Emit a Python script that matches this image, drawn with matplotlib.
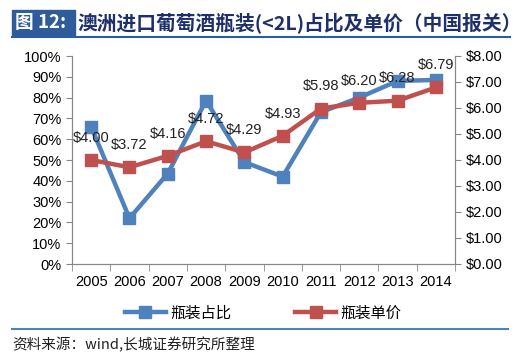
import numpy as np
import matplotlib.pyplot as plt
from matplotlib.ticker import FuncFormatter
from matplotlib.patches import Rectangle
from matplotlib.lines import Line2D

plt.rcParams['font.family'] = ['Liberation Sans', 'Noto Sans CJK SC', 'DejaVu Sans']

years = ['2005', '2006', '2007', '2008', '2009', '2010', '2011', '2012', '2013', '2014']
bottle_share = [66, 22, 43.5, 78.5, 49, 42, 73, 80, 88, 88.5]
bottle_price = [4.00, 3.72, 4.16, 4.72, 4.29, 4.93, 5.98, 6.20, 6.28, 6.79]

blue = '#4F81BD'
red = '#C0504D'

fig = plt.figure(figsize=(5.26, 3.6), dpi=100)
ax = fig.add_axes([72/526, 1-264/360, (455-72)/526, (264-56)/360])
ax2 = ax.twinx()

x = np.arange(len(years))
ax.plot(x, bottle_share, color=blue, lw=3.2, marker='s', ms=9, zorder=3)
ax2.plot(x, bottle_price, color=red, lw=3.2, marker='s', ms=9, zorder=3)
for xi, v in zip(x, bottle_price):
    ax2.annotate(f'${v:.2f}', (xi, v), xytext=(0, 11), textcoords='offset points',
                 ha='center', va='bottom', fontsize=10.5, color='#222222')

ax.set_xlim(-0.5, len(years) - 0.5)
ax.set_ylim(0, 100)
ax2.set_ylim(0, 8)
ax.set_yticks(np.arange(0, 101, 10))
ax.yaxis.set_major_formatter(FuncFormatter(lambda v, p: f'{v:.0f}%'))
ax2.set_yticks(np.arange(0, 8.01, 1))
ax2.yaxis.set_major_formatter(FuncFormatter(lambda v, p: f'${v:.2f}'))
ax.set_xticks(x)
ax.set_xticklabels(years)
ax.set_xticks(np.arange(-0.5, len(years), 1), minor=True)
ax.tick_params(axis='x', which='major', length=0, labelsize=10.5, pad=8)
ax.tick_params(axis='x', which='minor', length=5, color='#888888')
ax.tick_params(axis='y', length=4, color='#888888', labelsize=10.5)
ax2.tick_params(axis='y', length=4, color='#888888', labelsize=10.5)
for a in (ax, ax2):
    a.spines['top'].set_visible(False)
    for s in ('left', 'right', 'bottom'):
        a.spines[s].set_color('#888888')

handles = [Line2D([], [], color=blue, lw=3.2, marker='s', ms=8),
           Line2D([], [], color=red, lw=3.2, marker='s', ms=8)]
fig.legend(handles, ['瓶装占比', '瓶装单价'], loc='center', bbox_to_anchor=(0.5, 1-313/360),
           ncol=2, frameon=False, columnspacing=4.2, handlelength=2.7, handletextpad=0.25,
           prop={'family': ['Noto Sans CJK SC'], 'size': 11})

# header
fig.patches.append(Rectangle((12/526, 1-35/360), 63/526, 25/360, transform=fig.transFigure,
                             color='#2E5C9A', zorder=1))
fig.text(15/526, 1-23/360, '图 12:', color='white', fontsize=13.5, fontweight='bold',
         va='center', ha='left', family=['Noto Sans CJK SC'])
fig.text(77/526, 1-23/360, '澳洲进口葡萄酒瓶装(<2L)占比及单价（中国报关）', color='#1F2F6B',
         fontsize=14.2, fontweight='bold', va='center', ha='left',
         family=['Noto Sans CJK SC', 'DejaVu Sans'])
fig.add_artist(Line2D([12/526, 510/526], [1-37/360, 1-37/360], color='#2E5C9A', lw=1.5))
fig.add_artist(Line2D([12/526, 508/526], [1-329/360, 1-329/360], color='#4F81BD', lw=1.5))
fig.text(12/526, 1-345/360, '资料来源：wind,长城证券研究所整理', fontsize=10.5, style='italic',
         va='center', ha='left', color='#222222', family=['Noto Sans CJK SC', 'DejaVu Sans'])

fig.savefig('out.png', dpi=100)
